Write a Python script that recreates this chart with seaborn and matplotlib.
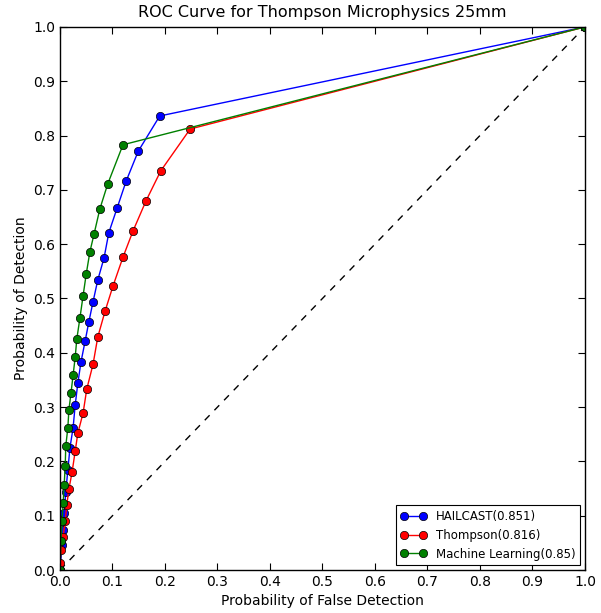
import numpy as np
import pandas as pd
import matplotlib
matplotlib.use("Agg")
import matplotlib.pyplot as plt
import seaborn as sns

series_names = ["HAILCAST(0.851)", "Thompson(0.816)", "Machine Learning(0.85)"]

hail_pofd = [0.0, 0.004, 0.006, 0.008, 0.011, 0.015, 0.019, 0.025, 0.029, 0.034, 0.040,
             0.048, 0.055, 0.063, 0.072, 0.084, 0.093, 0.109, 0.126, 0.149, 0.190, 1.0]
hail_pod = [0.0, 0.046, 0.074, 0.105, 0.144, 0.184, 0.225, 0.262, 0.304, 0.344, 0.383,
            0.422, 0.457, 0.494, 0.534, 0.575, 0.621, 0.667, 0.716, 0.771, 0.836, 1.0]

thom_pofd = [0.0, 0.0, 0.002, 0.006, 0.010, 0.013, 0.017, 0.023, 0.029, 0.034, 0.044,
             0.051, 0.063, 0.072, 0.086, 0.101, 0.120, 0.139, 0.164, 0.192, 0.248, 1.0]
thom_pod = [0.0, 0.013, 0.037, 0.061, 0.090, 0.120, 0.149, 0.180, 0.219, 0.252, 0.289,
            0.333, 0.379, 0.429, 0.477, 0.523, 0.576, 0.624, 0.680, 0.735, 0.812, 1.0]

ml_pofd = [0.0, 0.002, 0.004, 0.006, 0.008, 0.010, 0.011, 0.015, 0.017, 0.021, 0.025,
           0.029, 0.032, 0.038, 0.044, 0.050, 0.057, 0.065, 0.076, 0.091, 0.120, 1.0]
ml_pod = [0.0, 0.053, 0.090, 0.123, 0.157, 0.192, 0.228, 0.262, 0.295, 0.326, 0.359,
          0.392, 0.425, 0.464, 0.505, 0.545, 0.586, 0.619, 0.665, 0.711, 0.783, 1.0]

ticks = [0.0, 0.1, 0.2, 0.3, 0.4, 0.5, 0.6, 0.7, 0.8, 0.9, 1.0]

frames = []
for name, x, y in zip(series_names, [hail_pofd, thom_pofd, ml_pofd], [hail_pod, thom_pod, ml_pod]):
    frames.append(pd.DataFrame({"POFD": x, "POD": y, "model": name, "order": range(len(x))}))
df = pd.concat(frames, ignore_index=True)

sns.set_style("ticks")
plt.rcParams["font.family"] = ["DejaVu Sans"]
plt.rcParams["xtick.direction"] = "in"
plt.rcParams["ytick.direction"] = "in"
plt.rcParams["xtick.top"] = True
plt.rcParams["ytick.right"] = True
plt.rcParams["text.color"] = "black"
plt.rcParams["axes.labelcolor"] = "black"
plt.rcParams["xtick.color"] = "black"
plt.rcParams["ytick.color"] = "black"
plt.rcParams["axes.edgecolor"] = "black"

fig = plt.figure(figsize=(6.01, 6.13), dpi=100)
ax = fig.add_axes([0.0998, 0.0701, 0.8735, 0.886])

ax.plot([0, 1], [0, 1], color="black", linestyle="--", linewidth=1, dashes=(5, 5))

sns.lineplot(data=df, x="POFD", y="POD", hue="model", hue_order=series_names,
             palette=["blue", "red", "green"], sort=False, estimator=None, units="model",
             marker="o", markersize=6, markeredgecolor="black", markeredgewidth=0.5,
             linewidth=1, ax=ax)

ax.set_xlim(0, 1)
ax.set_ylim(0, 1)
ax.set_xticks(ticks)
ax.set_yticks(ticks)
ax.set_xticklabels([f"{t:.1f}" for t in ticks])
ax.set_yticklabels([f"{t:.1f}" for t in ticks])
ax.tick_params(axis="both", which="major", labelsize=10, length=5, width=0.8,
               color="black", labelcolor="black")
for s in ax.spines.values():
    s.set_color("black")
    s.set_linewidth(1)
ax.set_xlabel("Probability of False Detection", fontsize=10, color="black")
ax.set_ylabel("Probability of Detection", fontsize=10, color="black")
ax.set_title("ROC Curve for Thompson Microphysics 25mm", fontsize=11.5, pad=7, color="black")

leg = ax.legend(loc="lower right", fontsize=8.5, fancybox=False, framealpha=1,
                edgecolor="black", title=None, numpoints=2, handlelength=2.2,
                borderaxespad=0.4)
leg.get_frame().set_linewidth(0.8)
for t in leg.get_texts():
    t.set_color("black")

fig.savefig("out.png", dpi=100, facecolor="white")
